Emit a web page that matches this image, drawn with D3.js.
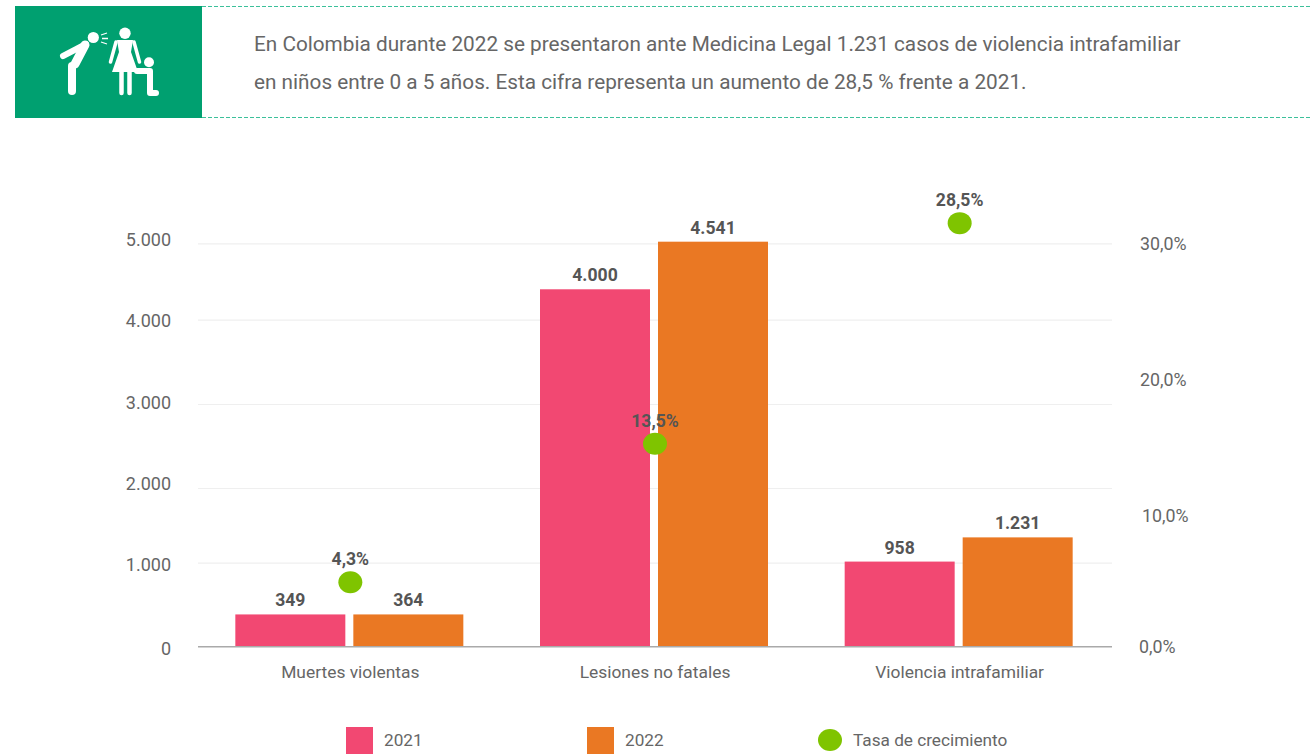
<!DOCTYPE html>
<html><head><meta charset="utf-8">
<script src="https://cdn.jsdelivr.net/npm/d3@7"></script>
<style>html,body{margin:0;padding:0;background:#fff}svg{display:block}text{font-family:Roboto,"Noto Sans",sans-serif}</style>
</head><body><div id="chart"></div>
<script>
const categories=["Muertes violentas","Lesiones no fatales","Violencia intrafamiliar"];
const series2021=[400,4430,1055];
const series2022=[400,5020,1355];
const labels2021=["349","4.000","958"];
const labels2022=["364","4.541","1.231"];
const growth=[4.8,15.1,31.5];
const growthLabels=["4,3%","13,5%","28,5%"];
const leftTicks=[0,1000,2000,3000,4000,5000];
const leftTickLabels=["0","1.000","2.000","3.000","4.000","5.000"];
const rightTicks=[0,10,20,30];
const rightTickLabels=["0,0%","10,0%","20,0%","30,0%"];
const headline=["En Colombia durante 2022 se presentaron ante Medicina Legal 1.231 casos de violencia intrafamiliar","en niños entre 0 a 5 años. Esta cifra representa un aumento de 28,5 % frente a 2021."];
const legendItems=["2021","2022","Tasa de crecimiento"];
const colors={a:"#f24872",b:"#ea7823",dot:"#7fc400",grid:"#efefef",axis:"#aaa",text:"#666",label:"#555",green:"#00a070"};

const W=1311,H=754;
const svg=d3.select("#chart").append("svg").attr("width",W).attr("height",H);

// Header
svg.append("rect").attr("x",15).attr("y",6).attr("width",187).attr("height",112).attr("fill",colors.green);
[6.5,117.5].forEach(y=>svg.append("line").attr("x1",202).attr("x2",1311).attr("y1",y).attr("y2",y)
  .attr("stroke","#3cc09a").attr("stroke-width",1).attr("stroke-dasharray","4 2"));
headline.forEach((t,i)=>svg.append("text").attr("x",254).attr("y",[51,89][i]).attr("font-size",20.75).attr("fill",colors.text).text(t));

// Icon
const icon=svg.append("g").attr("fill","#fff").attr("stroke","none");
icon.append("circle").attr("cx",93.3).attr("cy",37.5).attr("r",5.6);
icon.append("circle").attr("cx",125).attr("cy",33.3).attr("r",5.7);
icon.append("circle").attr("cx",149).attr("cy",62.3).attr("r",5);
const ln=(d,w)=>icon.append("path").attr("d",d).attr("fill","none").attr("stroke","#fff").attr("stroke-width",w).attr("stroke-linecap","round").attr("stroke-linejoin","round");
ln("M86 44 L63 56",6);
ln("M85 45 L75 64",9);
ln("M72 66 L72 91",8);
icon.append("path").attr("d","M117 40 H133 L131 52 L138 72 H112 L119 52 Z");
ln("M116 42 L110.5 62",3.5);
ln("M134 42 L139.5 62",3.5);
ln("M121.5 72 V93",4.5);
ln("M129.5 72 V93",4.5);
ln("M137 71 H150 V93 H156",6);
icon.append("path").attr("d","M101 35 L107 33 M102 38.5 H108 M101 42 L107 44").attr("stroke","#fff").attr("stroke-width",1.3);

// Scales
const y=d3.scaleLinear().domain([0,5000]).range([646.7,243.3]);
const yR=d3.scaleLinear().domain([0,30]).range([646.7,243.3]);
const yGrid=d3.scaleLinear().domain(leftTicks).range([646.7,562.7,488,404,319.7,243.3]);
const yLeftLab=d3.scaleLinear().domain(leftTicks).range([655,571,490,409,327,246]);
const yRightLab=d3.scaleLinear().domain(rightTicks).range([653,522,386,250]);
const x0=d3.scaleBand().domain(categories).range([198,1112]);
const offset=d3.scaleOrdinal().domain(["a","b"]).range([-115,3]);

// Gridlines via axis
const gridAxis=d3.axisLeft(yGrid).tickValues(leftTicks.slice(1)).tickSize(-914).tickFormat("");
const grid=svg.append("g").attr("transform","translate(198,0)").call(gridAxis);
grid.select(".domain").remove();
grid.selectAll("line").attr("stroke",colors.grid).attr("stroke-width",1.2);

// Left tick labels
svg.append("g").selectAll("text").data(leftTicks).join("text")
  .attr("x",171).attr("y",d=>yLeftLab(d)).attr("text-anchor","end").attr("font-size",18).attr("fill",colors.text)
  .text((d,i)=>leftTickLabels[i]);
// Right tick labels
svg.append("g").selectAll("text").data(rightTicks).join("text")
  .attr("x",(d,i)=>i===0?1139:(i===1?1142:1140)).attr("y",d=>yRightLab(d)).attr("font-size",17.8).attr("fill",colors.text)
  .text((d,i)=>rightTickLabels[i]);

// Bars
const barW=110;
function drawBars(vals,key,color,labs){
  const g=svg.append("g");
  g.selectAll("rect").data(vals).join("rect")
    .attr("x",(d,i)=>x0(categories[i])+x0.bandwidth()/2+offset(key)).attr("width",barW)
    .attr("y",d=>y(d)).attr("height",d=>y(0)-y(d)).attr("fill",color);
  g.selectAll("text").data(vals).join("text")
    .attr("x",(d,i)=>x0(categories[i])+x0.bandwidth()/2+offset(key)+barW/2)
    .attr("y",d=>y(d)-8).attr("text-anchor","middle").attr("font-size",17.6).attr("font-weight",700).attr("fill",colors.label)
    .text((d,i)=>labs[i]);
}
drawBars(series2021,"a",colors.a,labels2021);
drawBars(series2022,"b",colors.b,labels2022);

// Baseline
svg.append("line").attr("x1",198).attr("x2",1112).attr("y1",y(0)).attr("y2",y(0)).attr("stroke",colors.axis).attr("stroke-width",1.5);

// Category labels
svg.append("g").selectAll("text").data(categories).join("text")
  .attr("x",d=>x0(d)+x0.bandwidth()/2).attr("y",678).attr("text-anchor","middle").attr("font-size",17.4).attr("fill",colors.text).text(d=>d);

// Growth dots
const dots=svg.append("g");
dots.selectAll("ellipse").data(growth).join("ellipse")
  .attr("cx",(d,i)=>x0(categories[i])+x0.bandwidth()/2).attr("cy",d=>yR(d)).attr("rx",12).attr("ry",11).attr("fill",colors.dot);
dots.selectAll("text").data(growth).join("text")
  .attr("x",(d,i)=>x0(categories[i])+x0.bandwidth()/2).attr("y",d=>yR(d)-17).attr("text-anchor","middle")
  .attr("font-size",17.6).attr("font-weight",700).attr("fill",colors.label).text((d,i)=>growthLabels[i]);

// Legend
const lg=svg.append("g");
lg.append("rect").attr("x",346).attr("y",727).attr("width",27).attr("height",27).attr("fill",colors.a);
lg.append("rect").attr("x",587).attr("y",727).attr("width",27).attr("height",27).attr("fill",colors.b);
lg.append("ellipse").attr("cx",830).attr("cy",740).attr("rx",12).attr("ry",11).attr("fill",colors.dot);
[384,625,853].forEach((x,i)=>lg.append("text").attr("x",x).attr("y",746).attr("font-size",17.2).attr("fill",colors.text).text(legendItems[i]));
</script></body></html>
